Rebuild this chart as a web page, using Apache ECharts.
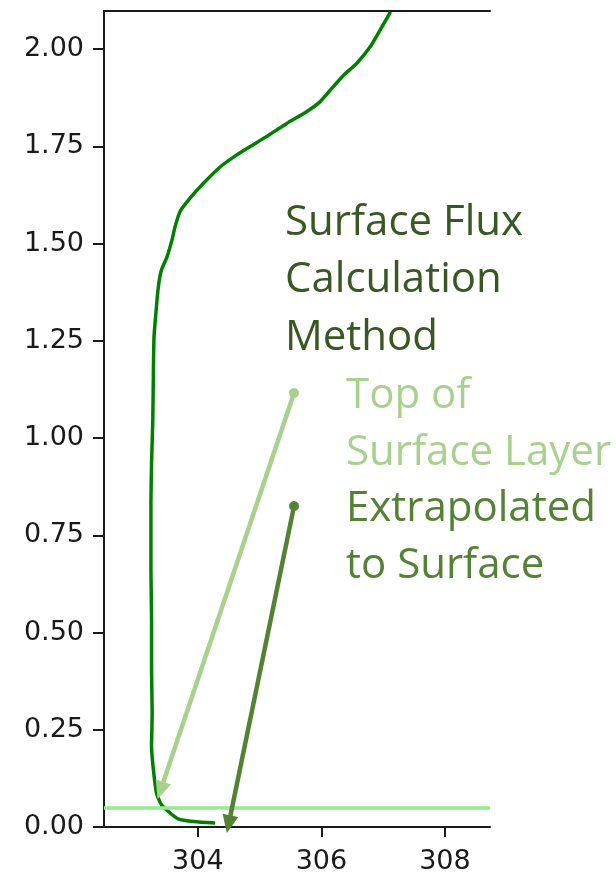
<!DOCTYPE html>
<html>
<head>
<meta charset="utf-8">
<script src="https://cdn.jsdelivr.net/npm/echarts@6/dist/echarts.min.js"></script>
<style>
  html, body { margin: 0; padding: 0; background: #ffffff; }
  #chart { width: 616px; height: 880px; }
</style>
</head>
<body>
<div id="chart"></div>
<script>
// Temperature profile (K) versus height (m)
const tempK = [304.28, 303.93, 303.68, 303.55, 303.41, 303.33, 303.28, 303.25, 303.26, 303.25,
               303.25, 303.24, 303.24, 303.24, 303.25, 303.27, 303.28, 303.29, 303.32, 303.36,
               303.41, 303.50, 303.58, 303.63, 303.71, 303.87, 304.09, 304.36, 304.63, 304.84,
               305.11, 305.44, 305.76, 305.98, 306.19, 306.36, 306.57, 306.79, 306.95, 307.12];
const heightM = [0.010, 0.014, 0.021, 0.036, 0.057, 0.087, 0.147, 0.206, 0.293, 0.404,
                 0.532, 0.661, 0.746, 0.833, 0.936, 1.046, 1.175, 1.260, 1.321, 1.389,
                 1.432, 1.466, 1.509, 1.543, 1.582, 1.616, 1.655, 1.697, 1.728, 1.749,
                 1.775, 1.809, 1.839, 1.865, 1.903, 1.933, 1.963, 2.006, 2.049, 2.096];
const surfaceLayerTop = 0.05;
const xTicks = [304, 306, 308];
const yTicks = [0, 0.25, 0.5, 0.75, 1.0, 1.25, 1.5, 1.75, 2.0];
const xRange = [302.48, 308.73];
const yRange = [0, 2.098];
// annotation arrows: [start(T,h), end(T,h)]
const arrowTopLayer = [[305.557, 1.116], [303.395, 0.094]];
const arrowExtrap = [[305.557, 0.825], [304.498, 0.0072]];
const headingLines = ['Surface Flux', 'Calculation', 'Method'];
const topLayerLines = ['Top of', 'Surface Layer'];
const extrapLines = ['Extrapolated', 'to Surface'];

const axisColor = '#1a1a1a';
const labelFont = 'DejaVu Sans';
const profile = tempK.map((t, i) => [t, heightM[i]]);

function arrowLine(a, color) {
  return [
    { coord: a[0], symbol: 'circle', symbolSize: 10, itemStyle: { color: color },
      lineStyle: { color: color, width: 4.5, type: 'solid' } },
    { coord: a[1], symbol: 'triangle', symbolSize: [16, 18], itemStyle: { color: color } }
  ];
}

function textLines(lines, x, y0, step, color) {
  return lines.map((s, i) => ({
    type: 'text', left: x, top: y0 + i * step, silent: true,
    style: { text: s, fill: color, font: '42px "Open Sans"' }
  }));
}

const chart = echarts.init(document.getElementById('chart'), null, { renderer: 'canvas' });
chart.setOption({
  animation: false,
  backgroundColor: '#ffffff',
  grid: { left: 104, top: 11, right: 126, bottom: 53, containLabel: false },
  xAxis: [{
    type: 'value', min: xRange[0], max: xRange[1], position: 'bottom',
    axisLine: { show: true, lineStyle: { color: axisColor, width: 2 } },
    axisTick: { show: true, length: 10, customValues: xTicks, lineStyle: { color: axisColor, width: 2 } },
    axisLabel: { customValues: xTicks, margin: 21, color: axisColor, fontSize: 27, fontFamily: labelFont,
                 formatter: v => String(Math.round(v)) },
    splitLine: { show: false }
  }, {
    type: 'value', min: xRange[0], max: xRange[1], position: 'top',
    axisLine: { show: true, onZero: false, lineStyle: { color: axisColor, width: 2 } },
    axisTick: { show: false }, axisLabel: { show: false }, splitLine: { show: false }
  }],
  yAxis: {
    type: 'value', min: yRange[0], max: yRange[1],
    axisLine: { show: true, lineStyle: { color: axisColor, width: 2 } },
    axisTick: { show: true, length: 11, customValues: yTicks, lineStyle: { color: axisColor, width: 2 } },
    axisLabel: { customValues: yTicks, margin: 20, color: axisColor, fontSize: 27, fontFamily: labelFont,
                 formatter: v => v.toFixed(2) },
    splitLine: { show: false }
  },
  series: [{
    type: 'line', data: [], silent: true,
    markLine: {
      silent: true, symbol: 'none', animation: false,
      label: { show: false },
      lineStyle: { color: '#90EE90', width: 3.5, type: 'solid' },
      data: [{ yAxis: surfaceLayerTop }]
    }
  }, {
    type: 'line', data: profile, showSymbol: false, smooth: 0.2,
    lineStyle: { color: '#008000', width: 3.5 }, clip: true, silent: true
  }, {
    type: 'line', data: [], clip: false, silent: true,
    markLine: {
      silent: true, animation: false, label: { show: false },
      data: [arrowLine(arrowTopLayer, '#A9D18E'), arrowLine(arrowExtrap, '#548235')]
    }
  }],
  graphic: [].concat(
    textLines(headingLines, 285, 202, 57.5, '#385723'),
    textLines(topLayerLines, 346, 375, 57, '#A9D18E'),
    textLines(extrapLines, 346, 488, 57, '#548235')
  )
});
</script>
</body>
</html>
